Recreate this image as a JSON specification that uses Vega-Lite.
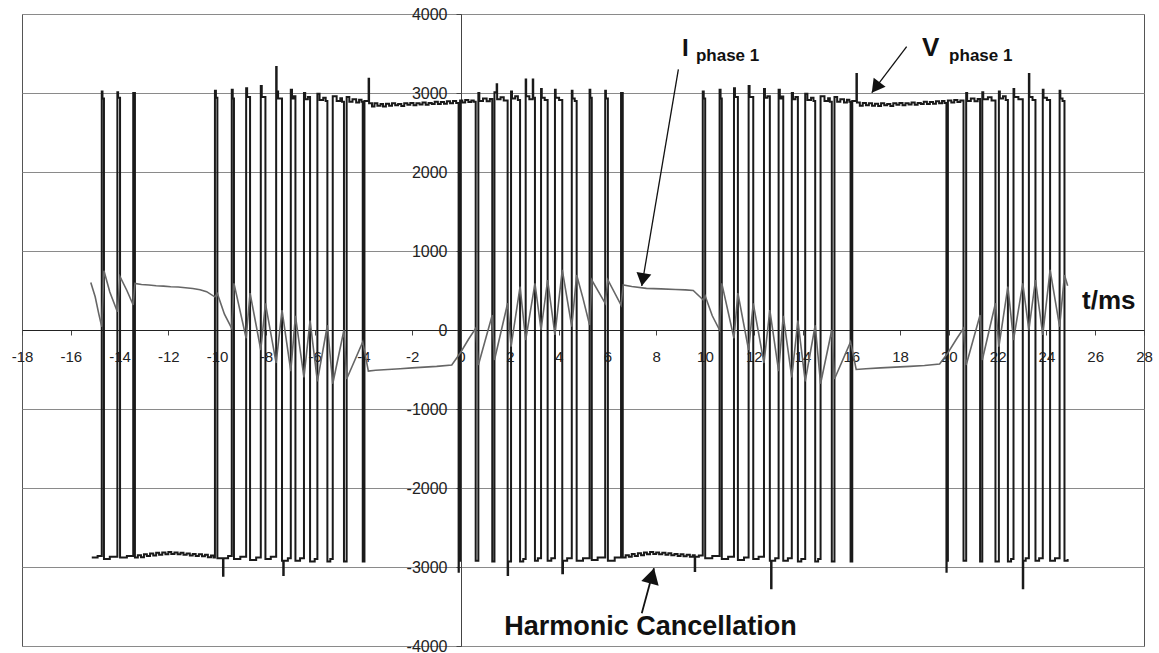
{
  "$schema": "https://vega.github.io/schema/vega-lite/v6.json",
  "width": 1122,
  "height": 632,
  "autosize": {"type": "none"},
  "padding": {"left": 22, "top": 14, "right": 15, "bottom": 7},
  "background": "white",
  "config": {
    "font": "Liberation Sans",
    "view": {"stroke": "#555", "strokeWidth": 1}
  },
  "datasets": {
    "volt": [
      {"t":-15.14,"v":-2880},{"t":-14.9,"v":-2860},{"t":-14.73,"v":3020},{"t":-14.70,"v":2930},{"t":-14.64,"v":-2900},{"t":-14.4,"v":-2870},{"t":-14.09,"v":3010},{"t":-14.06,"v":2940},{"t":-13.98,"v":-2880},{"t":-13.7,"v":-2860},{"t":-13.44,"v":3000},
      {"t":-13.37,"v":-2880},{"t":-13.25,"v":-2850},{"t":-13.12,"v":-2875},{"t":-13.0,"v":-2840},{"t":-12.88,"v":-2860},{"t":-12.75,"v":-2830},{"t":-12.62,"v":-2855},{"t":-12.5,"v":-2820},{"t":-12.38,"v":-2845},{"t":-12.25,"v":-2815},{"t":-12.12,"v":-2840},{"t":-12.0,"v":-2810},{"t":-11.88,"v":-2835},{"t":-11.75,"v":-2815},{"t":-11.62,"v":-2840},{"t":-11.5,"v":-2820},{"t":-11.38,"v":-2845},{"t":-11.25,"v":-2830},{"t":-11.12,"v":-2855},{"t":-11.0,"v":-2835},{"t":-10.88,"v":-2860},{"t":-10.75,"v":-2840},{"t":-10.62,"v":-2865},{"t":-10.5,"v":-2845},{"t":-10.38,"v":-2875},{"t":-10.25,"v":-2855},{"t":-10.15,"v":-2880},
      {"t":-10.09,"v":3030},{"t":-10.05,"v":2940},{"t":-9.99,"v":-2890},{"t":-9.76,"v":-3110},{"t":-9.74,"v":-2890},{"t":-9.55,"v":-2860},{"t":-9.40,"v":3040},{"t":-9.36,"v":2930},{"t":-9.31,"v":-2900},{"t":-9.05,"v":-2870},{"t":-8.81,"v":3060},{"t":-8.77,"v":2950},{"t":-8.65,"v":-2910},{"t":-8.4,"v":-2880},{"t":-8.21,"v":3090},{"t":-8.17,"v":2950},{"t":-8.02,"v":-2900},{"t":-7.8,"v":-2870},{"t":-7.58,"v":3330},{"t":-7.56,"v":3020},{"t":-7.50,"v":2930},{"t":-7.34,"v":-2920},{"t":-7.29,"v":-3100},{"t":-7.27,"v":-2920},{"t":-7.1,"v":-2890},{"t":-6.98,"v":3040},{"t":-6.93,"v":2930},{"t":-6.85,"v":2960},{"t":-6.79,"v":-2920},{"t":-6.6,"v":-2890},{"t":-6.44,"v":3000},{"t":-6.39,"v":2920},{"t":-6.28,"v":2950},{"t":-6.19,"v":-2930},{"t":-6.0,"v":-2900},{"t":-5.89,"v":2990},{"t":-5.80,"v":2910},{"t":-5.65,"v":2940},{"t":-5.55,"v":2900},{"t":-5.48,"v":-2930},{"t":-5.36,"v":-2900},{"t":-5.26,"v":2960},{"t":-5.10,"v":2900},{"t":-4.95,"v":2935},{"t":-4.88,"v":2890},{"t":-4.80,"v":-2930},{"t":-4.69,"v":2950},{"t":-4.58,"v":2890},{"t":-4.45,"v":2920},{"t":-4.30,"v":2880},{"t":-4.18,"v":2915},{"t":-4.08,"v":2890},{"t":-4.03,"v":-2930},
      {"t":-3.96,"v":2900},{"t":-3.79,"v":3180},{"t":-3.77,"v":2870},{"t":-3.65,"v":2830},{"t":-3.55,"v":2870},{"t":-3.43,"v":2840},{"t":-3.3,"v":2860},{"t":-3.2,"v":2830},{"t":-3.08,"v":2865},{"t":-2.95,"v":2840},{"t":-2.83,"v":2870},{"t":-2.7,"v":2845},{"t":-2.58,"v":2860},{"t":-2.45,"v":2835},{"t":-2.33,"v":2870},{"t":-2.2,"v":2850},{"t":-2.08,"v":2875},{"t":-1.95,"v":2845},{"t":-1.83,"v":2870},{"t":-1.7,"v":2855},{"t":-1.58,"v":2880},{"t":-1.45,"v":2850},{"t":-1.33,"v":2875},{"t":-1.2,"v":2860},{"t":-1.08,"v":2890},{"t":-0.95,"v":2860},{"t":-0.83,"v":2885},{"t":-0.7,"v":2865},{"t":-0.58,"v":2895},{"t":-0.45,"v":2870},{"t":-0.33,"v":2900},{"t":-0.2,"v":2875},{"t":-0.1,"v":-3060},{"t":-0.09,"v":-2920},{"t":-0.04,"v":2905},{"t":0.05,"v":2880},{"t":0.17,"v":2910},{"t":0.3,"v":2885},{"t":0.42,"v":2905},{"t":0.52,"v":2890},
      {"t":0.60,"v":-2920},{"t":0.71,"v":3000},{"t":0.75,"v":2900},{"t":0.9,"v":2930},{"t":1.05,"v":2895},{"t":1.18,"v":2925},{"t":1.28,"v":-2930},{"t":1.37,"v":3010},{"t":1.46,"v":3110},{"t":1.48,"v":2920},{"t":1.62,"v":2945},{"t":1.75,"v":2905},{"t":1.91,"v":-3100},{"t":1.93,"v":-2930},{"t":2.05,"v":3020},{"t":2.09,"v":2930},{"t":2.22,"v":2960},{"t":2.33,"v":2910},{"t":2.42,"v":-2930},{"t":2.55,"v":-2900},{"t":2.65,"v":3170},{"t":2.67,"v":2960},{"t":2.8,"v":2920},{"t":2.94,"v":3170},{"t":2.96,"v":2940},{"t":3.03,"v":-2920},{"t":3.15,"v":-2890},{"t":3.28,"v":3050},{"t":3.31,"v":2940},{"t":3.43,"v":2910},{"t":3.55,"v":-2920},{"t":3.7,"v":-2890},{"t":3.85,"v":3040},{"t":3.88,"v":2940},{"t":4.02,"v":2910},{"t":4.15,"v":-3080},{"t":4.18,"v":-2920},{"t":4.35,"v":-2890},{"t":4.54,"v":3030},{"t":4.57,"v":2930},{"t":4.66,"v":2900},{"t":4.74,"v":-2920},{"t":5.0,"v":-2890},
      {"t":5.27,"v":3040},{"t":5.30,"v":2940},{"t":5.36,"v":-2910},{"t":5.6,"v":-2880},{"t":5.91,"v":3030},{"t":5.94,"v":2930},{"t":6.02,"v":-2920},{"t":6.3,"v":-2880},{"t":6.56,"v":3000},
      {"t":6.63,"v":-2880},{"t":6.75,"v":-2850},{"t":6.88,"v":-2870},{"t":7.0,"v":-2835},{"t":7.12,"v":-2860},{"t":7.25,"v":-2825},{"t":7.38,"v":-2850},{"t":7.5,"v":-2815},{"t":7.62,"v":-2840},{"t":7.75,"v":-2810},{"t":7.88,"v":-2835},{"t":8.0,"v":-2815},{"t":8.12,"v":-2840},{"t":8.25,"v":-2820},{"t":8.38,"v":-2845},{"t":8.5,"v":-2825},{"t":8.62,"v":-2850},{"t":8.75,"v":-2835},{"t":8.88,"v":-2860},{"t":9.0,"v":-2840},{"t":9.12,"v":-2865},{"t":9.25,"v":-2845},{"t":9.38,"v":-2870},{"t":9.5,"v":-2850},{"t":9.58,"v":-3050},{"t":9.60,"v":-2870},{"t":9.75,"v":-2855},
      {"t":9.91,"v":3020},{"t":9.95,"v":2930},{"t":10.01,"v":-2890},{"t":10.30,"v":-2860},{"t":10.60,"v":3040},{"t":10.64,"v":2930},{"t":10.69,"v":-2900},{"t":10.95,"v":-2870},{"t":11.19,"v":3060},{"t":11.23,"v":2950},{"t":11.35,"v":-2910},{"t":11.6,"v":-2880},{"t":11.79,"v":3090},{"t":11.83,"v":2950},{"t":11.98,"v":-2900},{"t":12.2,"v":-2870},{"t":12.42,"v":3050},{"t":12.46,"v":2940},{"t":12.56,"v":2960},{"t":12.66,"v":-2920},{"t":12.71,"v":-3270},{"t":12.73,"v":-2920},{"t":12.88,"v":-2890},{"t":13.02,"v":3040},{"t":13.07,"v":2930},{"t":13.15,"v":2955},{"t":13.21,"v":-2920},{"t":13.4,"v":-2890},{"t":13.56,"v":3000},{"t":13.61,"v":2920},{"t":13.71,"v":2950},{"t":13.81,"v":-2930},{"t":13.95,"v":-2900},{"t":14.11,"v":2990},{"t":14.2,"v":2910},{"t":14.35,"v":2940},{"t":14.45,"v":2900},{"t":14.52,"v":-2930},{"t":14.64,"v":-2900},{"t":14.74,"v":2960},{"t":14.9,"v":2900},{"t":15.05,"v":2935},{"t":15.12,"v":2890},{"t":15.20,"v":-2930},{"t":15.31,"v":2950},{"t":15.42,"v":2890},{"t":15.55,"v":2920},{"t":15.7,"v":2880},{"t":15.82,"v":2915},{"t":15.92,"v":2890},{"t":15.97,"v":-2930},
      {"t":16.04,"v":2900},{"t":16.21,"v":3240},{"t":16.23,"v":2880},{"t":16.35,"v":2840},{"t":16.47,"v":2875},{"t":16.6,"v":2845},{"t":16.72,"v":2870},{"t":16.85,"v":2840},{"t":16.97,"v":2865},{"t":17.1,"v":2835},{"t":17.22,"v":2870},{"t":17.35,"v":2845},{"t":17.47,"v":2860},{"t":17.6,"v":2835},{"t":17.72,"v":2870},{"t":17.85,"v":2850},{"t":17.97,"v":2875},{"t":18.1,"v":2845},{"t":18.22,"v":2870},{"t":18.35,"v":2855},{"t":18.47,"v":2880},{"t":18.6,"v":2850},{"t":18.72,"v":2875},{"t":18.85,"v":2860},{"t":18.97,"v":2890},{"t":19.1,"v":2860},{"t":19.22,"v":2885},{"t":19.35,"v":2865},{"t":19.47,"v":2895},{"t":19.6,"v":2870},{"t":19.72,"v":2900},{"t":19.82,"v":2875},{"t":19.9,"v":-3060},{"t":19.91,"v":-2920},{"t":19.96,"v":2905},{"t":20.1,"v":2880},{"t":20.22,"v":2910},{"t":20.35,"v":2885},{"t":20.47,"v":2905},
      {"t":20.60,"v":-2920},{"t":20.71,"v":3000},{"t":20.75,"v":2900},{"t":20.9,"v":2930},{"t":21.05,"v":2895},{"t":21.18,"v":2925},{"t":21.28,"v":-2930},{"t":21.37,"v":3010},{"t":21.41,"v":2920},{"t":21.6,"v":2945},{"t":21.75,"v":2905},{"t":21.91,"v":-2930},{"t":22.05,"v":3020},{"t":22.09,"v":2930},{"t":22.22,"v":2960},{"t":22.33,"v":2910},{"t":22.42,"v":-2930},{"t":22.55,"v":-2900},{"t":22.65,"v":3050},{"t":22.68,"v":2950},{"t":22.85,"v":2920},{"t":23.03,"v":-3270},{"t":23.05,"v":-2920},{"t":23.15,"v":-2890},{"t":23.28,"v":3240},{"t":23.30,"v":2950},{"t":23.43,"v":2910},{"t":23.55,"v":-2920},{"t":23.7,"v":-2890},{"t":23.85,"v":3040},{"t":23.88,"v":2940},{"t":24.02,"v":2910},{"t":24.15,"v":-2920},{"t":24.35,"v":-2890},{"t":24.54,"v":3030},{"t":24.57,"v":2930},{"t":24.66,"v":2900},{"t":24.74,"v":-2920},{"t":24.87,"v":-2900}
    ],
    "curr": [
      {"t":-15.18,"v":600},{"t":-15.0,"v":420},{"t":-14.85,"v":200},{"t":-14.73,"v":40},{"t":-14.64,"v":750},{"t":-14.4,"v":480},{"t":-14.09,"v":230},{"t":-13.98,"v":675},{"t":-13.7,"v":500},{"t":-13.44,"v":316},{"t":-13.37,"v":590},{"t":-13.1,"v":575},{"t":-12.8,"v":570},{"t":-12.5,"v":560},{"t":-12.2,"v":555},{"t":-11.9,"v":548},{"t":-11.6,"v":545},{"t":-11.3,"v":535},{"t":-11.0,"v":525},{"t":-10.7,"v":510},{"t":-10.43,"v":485},{"t":-10.1,"v":420},{"t":-9.99,"v":460},{"t":-9.7,"v":200},{"t":-9.40,"v":20},{"t":-9.31,"v":590},{"t":-8.81,"v":-105},{"t":-8.65,"v":468},{"t":-8.21,"v":-253},{"t":-8.02,"v":338},{"t":-7.58,"v":-418},{"t":-7.34,"v":253},{"t":-6.98,"v":-520},{"t":-6.79,"v":180},{"t":-6.44,"v":-600},{"t":-6.19,"v":120},{"t":-5.89,"v":-650},{"t":-5.48,"v":60},{"t":-5.26,"v":-680},{"t":-4.80,"v":0},{"t":-4.69,"v":-620},{"t":-4.03,"v":-150},{"t":-3.80,"v":-520},{"t":-3.5,"v":-510},{"t":-3.0,"v":-500},{"t":-2.5,"v":-490},{"t":-2.0,"v":-480},{"t":-1.5,"v":-470},{"t":-1.0,"v":-460},{"t":-0.38,"v":-443},{"t":-0.04,"v":-295},{"t":0.3,"v":-120},{"t":0.60,"v":21},{"t":0.71,"v":-443},{"t":1.28,"v":190},{"t":1.37,"v":-380},{"t":1.91,"v":338},{"t":2.05,"v":-211},{"t":2.42,"v":548},{"t":2.65,"v":-127},{"t":3.03,"v":591},{"t":3.28,"v":0},{"t":3.55,"v":633},{"t":3.85,"v":-63},{"t":4.15,"v":760},{"t":4.54,"v":42},{"t":4.74,"v":696},{"t":5.0,"v":400},
      {"t":5.27,"v":63},{"t":5.36,"v":633},{"t":5.91,"v":338},{"t":6.02,"v":633},{"t":6.56,"v":316},{"t":6.65,"v":570},{"t":7.0,"v":550},{"t":7.6,"v":527},{"t":8.2,"v":520},{"t":8.8,"v":512},{"t":9.2,"v":508},{"t":9.52,"v":500},{"t":9.93,"v":380},{"t":10.01,"v":430},{"t":10.3,"v":180},{"t":10.60,"v":0},{"t":10.69,"v":590},{"t":11.19,"v":-105},{"t":11.35,"v":468},{"t":11.79,"v":-253},{"t":11.98,"v":338},{"t":12.42,"v":-418},{"t":12.66,"v":253},{"t":13.02,"v":-520},{"t":13.21,"v":180},{"t":13.56,"v":-600},{"t":13.81,"v":120},{"t":14.11,"v":-650},{"t":14.52,"v":60},{"t":14.74,"v":-680},{"t":15.20,"v":0},{"t":15.31,"v":-620},{"t":15.97,"v":-150},{"t":16.20,"v":-500},{"t":16.6,"v":-490},{"t":17.2,"v":-480},{"t":17.8,"v":-470},{"t":18.4,"v":-460},{"t":19.0,"v":-450},{"t":19.62,"v":-430},{"t":19.96,"v":-290},{"t":20.3,"v":-120},{"t":20.60,"v":21},{"t":20.71,"v":-443},{"t":21.28,"v":190},{"t":21.37,"v":-380},{"t":21.91,"v":338},{"t":22.05,"v":-211},{"t":22.42,"v":548},{"t":22.65,"v":-127},{"t":23.03,"v":591},{"t":23.28,"v":0},{"t":23.55,"v":633},{"t":23.85,"v":-63},{"t":24.15,"v":760},{"t":24.54,"v":42},{"t":24.74,"v":696},{"t":24.87,"v":560}
    ]
  },
  "encoding": {
    "x": {"field": "t", "type": "quantitative",
      "scale": {"domain": [-18, 28], "nice": false, "zero": false},
      "axis": {"orient": "bottom", "offset": -316, "title": null, "grid": false,
        "values": [-18,-16,-14,-12,-10,-8,-6,-4,-2,0,2,4,6,8,10,12,14,16,18,20,22,24,26,28],
        "labelExpr": "datum.value < 0 ? '-' + format(-datum.value, 'd') : format(datum.value, 'd')",
        "domainColor": "#222", "domainWidth": 1, "tickColor": "#444", "tickSize": 5,
        "labelPadding": 14, "labelFontSize": 15, "labelColor": "#222", "labelFont": "Liberation Sans",
        "labelOverlap": false, "labelBound": false, "labelFlush": false}},
    "y": {"field": "v", "type": "quantitative",
      "scale": {"domain": [-4000, 4000], "nice": false, "zero": false},
      "axis": {"orient": "left", "offset": -439, "title": null, "grid": true,
        "gridColor": "#8a8a8a", "gridWidth": 1,
        "values": [-4000,-3000,-2000,-1000,0,1000,2000,3000,4000],
        "labelExpr": "datum.value < 0 ? '-' + format(-datum.value, 'd') : format(datum.value, 'd')",
        "domainColor": "#444", "domainWidth": 1, "tickColor": "#444", "tickSize": 5,
        "labelPadding": 9, "labelFontSize": 16, "labelColor": "#222", "labelFont": "Liberation Sans",
        "labelOverlap": false, "labelBound": false, "labelFlush": false}}
  },
  "layer": [
    {"data": {"name": "volt"}, "mark": {"type": "line", "interpolate": "step-after", "color": "#1a1a1a", "strokeWidth": 2, "clip": true}},
    {"data": {"name": "curr"}, "mark": {"type": "line", "color": "#666666", "strokeWidth": 1.6, "clip": true}},
    {"data": {"values": [{"t": 8.91, "v": 3300, "t2": 7.41, "v2": 557}]},
     "mark": {"type": "rule", "color": "#111", "strokeWidth": 1.3},
     "encoding": {"x2": {"field": "t2"}, "y2": {"field": "v2"}}},
    {"data": {"values": [{"t": 7.453, "v": 638}]},
     "mark": {"type": "point", "shape": "triangle-up", "filled": true, "color": "#111", "opacity": 1, "size": 225, "angle": 189.6}},
    {"data": {"values": [{"t": 18.27, "v": 3586, "t2": 16.84, "v2": 3004}]},
     "mark": {"type": "rule", "color": "#111", "strokeWidth": 1.3},
     "encoding": {"x2": {"field": "t2"}, "y2": {"field": "v2"}}},
    {"data": {"values": [{"t": 17.0, "v": 3070}]},
     "mark": {"type": "point", "shape": "triangle-up", "filled": true, "color": "#111", "opacity": 1, "size": 225, "angle": 217.3}},
    {"data": {"values": [{"t": 7.41, "v": -3586, "t2": 7.91, "v2": -3016}]},
     "mark": {"type": "rule", "color": "#111", "strokeWidth": 1.8},
     "encoding": {"x2": {"field": "t2"}, "y2": {"field": "v2"}}},
    {"data": {"values": [{"t": 7.83, "v": -3111}]},
     "mark": {"type": "point", "shape": "triangle-up", "filled": true, "color": "#111", "opacity": 1, "size": 324, "angle": 15.3}},
    {"data": {"values": [{"t": 9.06, "v": 3468, "label": "I"}]},
     "mark": {"type": "text", "align": "left", "baseline": "alphabetic", "fontSize": 24, "fontWeight": "bold", "color": "#111", "font": "Liberation Sans"},
     "encoding": {"text": {"field": "label"}}},
    {"data": {"values": [{"t": 9.63, "v": 3405, "label": "phase 1"}, {"t": 20.01, "v": 3405, "label": "phase 1"}]},
     "mark": {"type": "text", "align": "left", "baseline": "alphabetic", "fontSize": 17, "fontWeight": "bold", "color": "#111", "font": "Liberation Sans"},
     "encoding": {"text": {"field": "label"}}},
    {"data": {"values": [{"t": 18.9, "v": 3468, "label": "V"}, {"t": 25.46, "v": 266, "label": "t/ms"}]},
     "mark": {"type": "text", "align": "left", "baseline": "alphabetic", "fontSize": 26, "fontWeight": "bold", "color": "#111", "font": "Liberation Sans"},
     "encoding": {"text": {"field": "label"}}},
    {"data": {"values": [{"t": 7.77, "v": -3861, "label": "Harmonic Cancellation"}]},
     "mark": {"type": "text", "align": "center", "baseline": "alphabetic", "fontSize": 27, "fontWeight": "bold", "color": "#111", "font": "Liberation Sans"},
     "encoding": {"text": {"field": "label"}}}
  ]
}
